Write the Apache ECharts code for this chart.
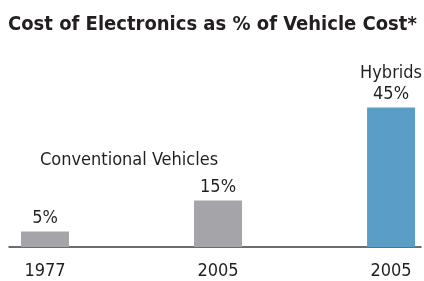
<!DOCTYPE html>
<html>
<head>
<meta charset="utf-8">
<script src="https://cdn.jsdelivr.net/npm/echarts@6/dist/echarts.min.js"></script>
<style>
  html, body { margin: 0; padding: 0; background: #fff; }
  #chart { width: 424px; height: 281px; }
</style>
</head>
<body>
<div id="chart"></div>
<script>
// values
const years = ['1977', '2005', '2005'];
const shares = [5, 15, 45];
const groupLabels = ['Conventional Vehicles', 'Hybrids'];
const barColors = ['#a5a4a9', '#a5a4a9', '#5a9ec5'];

const FONT = '"DejaVu Sans Condensed", sans-serif';

const chart = echarts.init(document.getElementById('chart'));

const barData = shares.map((v, i) => ({
  value: [i, v],
  itemStyle: { color: barColors[i] }
}));

const option = {
  animation: false,
  textStyle: { fontFamily: FONT, color: '#231f20' },
  title: {
    text: 'Cost of Electronics as % of Vehicle Cost*',
    left: 3,
    top: 10,
    textStyle: { fontFamily: FONT, fontSize: 20, fontWeight: 'bold', color: '#231f20' }
  },
  grid: { left: 9, right: 3, top: 92, bottom: 34 },
  xAxis: {
    type: 'value',
    min: -0.208,
    max: 2.173,
    splitLine: { show: false },
    axisTick: { show: false },
    axisLine: { show: true, lineStyle: { color: '#3c3c3c', width: 1.5 } },
    axisLabel: {
      customValues: [0, 1, 2],
      formatter: v => years[Math.round(v)],
      fontFamily: FONT,
      fontSize: 18,
      color: '#231f20',
      margin: 15
    }
  },
  yAxis: {
    type: 'value',
    min: 0,
    max: 50,
    show: false
  },
  series: [{
    type: 'bar',
    barWidth: 48,
    data: barData,
    label: {
      show: true,
      position: 'top',
      distance: 3,
      fontFamily: FONT,
      fontSize: 18,
      color: '#231f20',
      formatter: p => p.dataIndex === 2
        ? '{g|' + groupLabels[1] + '}\n' + p.value[1] + '%'
        : p.value[1] + '%',
      lineHeight: 21,
      rich: { g: { fontFamily: FONT, fontSize: 18, color: '#231f20', lineHeight: 21 } }
    }
  }],
  graphic: [{
    type: 'text',
    left: 40,
    top: 151,
    style: { text: groupLabels[0], font: '18px ' + FONT, fill: '#231f20' }
  }]
};

chart.setOption(option);
</script>
</body>
</html>
